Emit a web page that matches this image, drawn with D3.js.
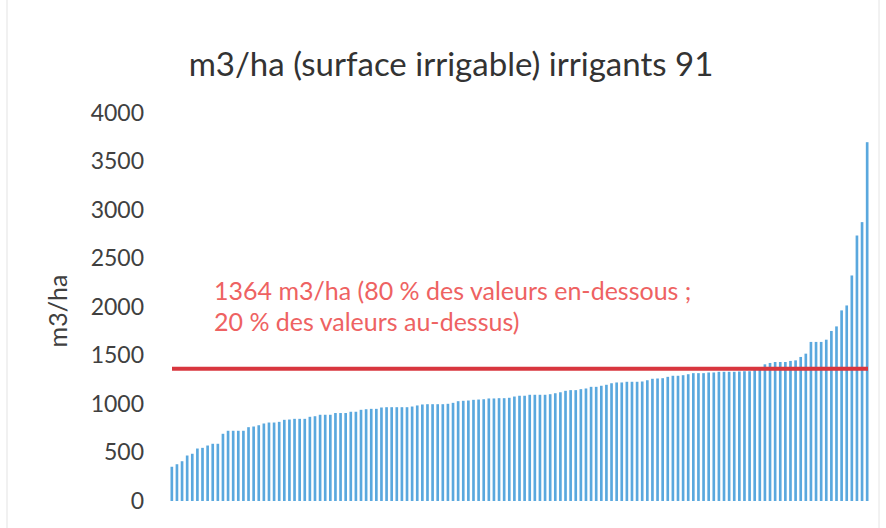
<!DOCTYPE html>
<html>
<head>
<meta charset="utf-8">
<script src="https://cdn.jsdelivr.net/npm/d3@7"></script>
<style>
  body { margin: 0; background: #fff; }
  svg { display: block; }
</style>
</head>
<body>
<svg id="chart" width="886" height="528"></svg>
<script>
// valeurs (m3/ha, triées)
const volumes = [
  353, 379, 410, 469, 487, 541, 548, 572, 590, 590, 693, 724, 724, 724, 724, 761, 768, 781, 799, 809, 809, 816, 837,
  840, 847, 847, 847, 868, 874, 889, 889, 889, 907, 907, 907, 920, 920, 940, 946, 950, 950, 964, 967, 967, 967, 967,
  967, 974, 985, 995, 998, 998, 998, 998, 1002, 1012, 1029, 1033, 1036, 1043, 1046, 1049, 1057, 1057, 1060, 1060, 1064, 1077, 1085,
  1085, 1095, 1095, 1095, 1095, 1101, 1111, 1121, 1136, 1143, 1143, 1153, 1160, 1177, 1177, 1188, 1198, 1214, 1222, 1222, 1229, 1229,
  1229, 1232, 1245, 1260, 1263, 1266, 1280, 1291, 1291, 1297, 1307, 1318, 1318, 1318, 1325, 1325, 1332, 1332, 1332, 1332, 1335, 1338, 1338,
  1350, 1360, 1409, 1423, 1433, 1433, 1433, 1444, 1450, 1485, 1519, 1640, 1640, 1640, 1663, 1753, 1800, 1965, 2016, 2325, 2737, 2875, 3699
];
const irrigants = volumes.map((v, i) => i);
const yTicks = [0, 500, 1000, 1500, 2000, 2500, 3000, 3500, 4000];
const seuil = 1364;
const seuilLabel = ["1364 m3/ha (80 % des valeurs en-dessous ;", "20 % des valeurs au-dessus)"];
const titre = "m3/ha (surface irrigable) irrigants 91";

const svg = d3.select("#chart");

// cadre léger
svg.append("rect")
  .attr("x", 7).attr("y", -2)
  .attr("width", 872).attr("height", 540)
  .attr("fill", "none")
  .attr("stroke", "#e4e4e4");

const x = d3.scaleBand()
  .domain(irrigants)
  .range([170.5, 868.5])
  .paddingInner(0.48);

const y = d3.scaleLinear()
  .domain([0, 4000])
  .range([501, 113]);

// axe Y sans trait
const yAxis = svg.append("g")
  .attr("transform", "translate(144,0)")
  .call(d3.axisLeft(y).tickValues(yTicks).tickFormat(d3.format("d")).tickSize(0).tickPadding(0));
yAxis.select(".domain").remove();
yAxis.selectAll("text")
  .style("font-family", "Lato, sans-serif")
  .style("font-size", "23px")
  .style("fill", "#404040");

svg.append("text")
  .attr("transform", "translate(67,311) rotate(-90)")
  .attr("text-anchor", "middle")
  .style("font-family", "Lato, sans-serif")
  .style("font-size", "25px")
  .style("fill", "#404040")
  .text("m3/ha");

// barres
svg.append("g")
  .selectAll("rect")
  .data(volumes)
  .enter()
  .append("rect")
  .attr("x", (d, i) => x(i))
  .attr("y", d => y(d))
  .attr("width", x.bandwidth())
  .attr("height", d => y(0) - y(d))
  .attr("fill", "#5aa8de");

// ligne du seuil 80 %
svg.append("line")
  .attr("x1", 172).attr("x2", 868)
  .attr("y1", y(seuil)).attr("y2", y(seuil))
  .attr("stroke", "#d8363e")
  .attr("stroke-width", 4);

svg.append("g")
  .selectAll("text")
  .data(seuilLabel)
  .enter()
  .append("text")
  .attr("x", 214)
  .attr("y", (d, i) => 300 + i * 31)
  .style("font-family", "Lato, sans-serif")
  .style("font-size", "25px")
  .style("fill", "#ee6262")
  .text(d => d);

// titre
svg.append("text")
  .attr("x", 451)
  .attr("y", 76)
  .attr("text-anchor", "middle")
  .style("font-family", "Lato, sans-serif")
  .style("font-size", "33px")
  .style("fill", "#333")
  .text(titre);
</script>
</body>
</html>
